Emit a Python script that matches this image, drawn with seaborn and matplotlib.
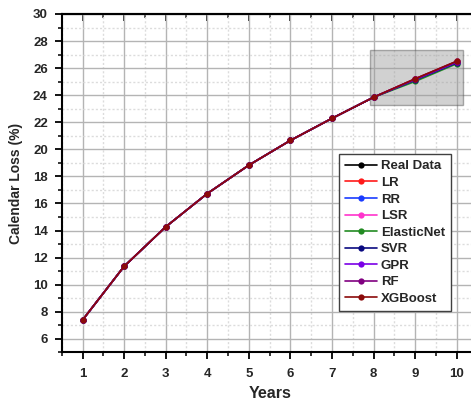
import numpy as np
import pandas as pd
import matplotlib
matplotlib.use("Agg")
import matplotlib.pyplot as plt
from matplotlib.patches import Rectangle
from matplotlib.ticker import MultipleLocator
import seaborn as sns

sns.set_style("white")
plt.rcParams["font.family"] = ["Liberation Sans", "DejaVu Sans"]
plt.rcParams["font.weight"] = "bold"

years = [1, 2, 3, 4, 5, 6, 7, 8, 9, 10]

real_data = [7.38, 11.35, 14.27, 16.73, 18.83, 20.66, 22.29, 23.85, 25.20, 26.50]
lr = [7.38, 11.35, 14.27, 16.73, 18.83, 20.66, 22.29, 23.85, 25.18, 26.45]
rr = [7.38, 11.35, 14.27, 16.73, 18.83, 20.66, 22.29, 23.85, 25.15, 26.42]
lsr = [7.38, 11.35, 14.27, 16.73, 18.83, 20.66, 22.29, 23.85, 25.22, 26.50]
elasticnet = [7.38, 11.35, 14.27, 16.73, 18.83, 20.66, 22.29, 23.85, 25.02, 26.33]
svr = [7.38, 11.35, 14.27, 16.73, 18.83, 20.66, 22.29, 23.85, 25.12, 26.40]
gpr = [7.38, 11.35, 14.27, 16.73, 18.83, 20.66, 22.29, 23.85, 25.16, 26.44]
rf = [7.38, 11.35, 14.27, 16.73, 18.83, 20.66, 22.29, 23.85, 25.20, 26.48]
xgboost = [7.38, 11.35, 14.27, 16.73, 18.83, 20.66, 22.29, 23.85, 25.22, 26.52]

series_names = ["Real Data", "LR", "RR", "LSR", "ElasticNet", "SVR", "GPR", "RF", "XGBoost"]
series_values = [real_data, lr, rr, lsr, elasticnet, svr, gpr, rf, xgboost]
series_colors = ["#000000", "#ff1a1a", "#1a3cff", "#ff33cc", "#228b22",
                 "#0a0a80", "#7a00e6", "#800080", "#8b0a0a"]

df = pd.DataFrame({
    "Years": np.tile(years, len(series_names)),
    "Loss": np.concatenate(series_values),
    "Model": np.repeat(series_names, len(years)),
})

fig = plt.figure(figsize=(4.71, 4.03), dpi=100)
ax = fig.add_axes([0.131, 0.1258, 0.8832, 0.8395])

# zoom-in highlight box around the forecast years
ax.add_patch(Rectangle((7.92, 23.26), 2.23, 4.07, facecolor="#9a9a9a", alpha=0.45,
                       edgecolor="#4d4d4d", linewidth=1.0, zorder=1.5))

sns.lineplot(data=df, x="Years", y="Loss", hue="Model", hue_order=series_names,
             palette=series_colors, marker="o", markersize=4.5, markeredgewidth=0,
             linewidth=1.2, ax=ax, zorder=3, legend=True)

ax.set_xlim(0.5, 10.5)
ax.set_ylim(5, 30)
ax.xaxis.set_major_locator(MultipleLocator(1))
ax.xaxis.set_minor_locator(MultipleLocator(0.5))
ax.yaxis.set_major_locator(MultipleLocator(2))
ax.yaxis.set_minor_locator(MultipleLocator(1))
ax.set_yticks(range(6, 31, 2))

ax.grid(which="major", color="#b4b4b4", linewidth=1.0, linestyle="-", zorder=0)
ax.grid(which="minor", color="#dcdcdc", linewidth=1.0, linestyle=(0, (1.5, 1.5)), zorder=0)
ax.set_axisbelow(True)

for side in ["left", "bottom", "top", "right"]:
    ax.spines[side].set_color("#000000")
    ax.spines[side].set_linewidth(1.5)

ax.tick_params(axis="both", which="both", bottom=True, left=True, top=False, right=False)
ax.tick_params(axis="both", which="major", direction="out", length=5, width=1.3,
               labelsize=9.5, color="#000000", pad=5)
ax.tick_params(axis="x", which="major", pad=6.5)
ax.tick_params(axis="both", which="minor", direction="out", length=3, width=1.1,
               color="#000000")
for lbl in ax.get_xticklabels() + ax.get_yticklabels():
    lbl.set_fontweight("bold")

# inward ticks mirrored on the top spine
secx = ax.secondary_xaxis("top")
secx.xaxis.set_major_locator(MultipleLocator(1))
secx.xaxis.set_minor_locator(MultipleLocator(0.5))
secx.tick_params(which="both", top=True)
secx.tick_params(which="major", direction="in", length=5, width=1.3, labeltop=False)
secx.tick_params(which="minor", direction="in", length=3, width=1.1)
secx.spines["top"].set_linewidth(1.5)

ax.set_xlabel("Years", fontsize=11.5, fontweight="bold", labelpad=4)
ax.set_ylabel("Calendar Loss (%)", fontsize=10, fontweight="bold", labelpad=7)

leg = ax.legend(loc="lower left", bbox_to_anchor=(0.667, 0.122), frameon=True,
                fancybox=False, edgecolor="#404040", framealpha=1.0,
                prop={"weight": "bold", "size": 9.5}, handlelength=2.4,
                handletextpad=0.3, labelspacing=0.33, borderpad=0.45,
                borderaxespad=0)
leg.get_frame().set_linewidth(1.0)

fig.savefig("out.png", dpi=100)
